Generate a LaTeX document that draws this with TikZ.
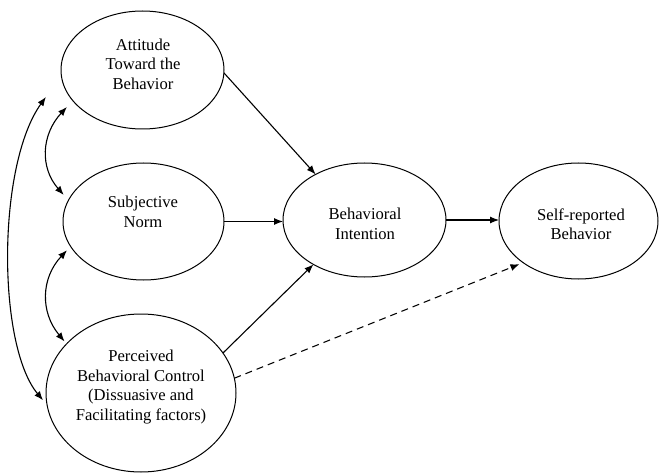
\documentclass[tikz,border=0pt]{standalone}
\usepackage{fontspec}
\setmainfont{Liberation Serif}
\usetikzlibrary{shapes.geometric,arrows.meta,calc}
\begin{document}
\begin{tikzpicture}[x=1pt,y=-1pt,
  ell/.style={draw,ellipse,line width=1pt,inner sep=0pt,outer sep=0pt},
  lbl/.style={align=center,inner sep=0pt,font=\fontsize{16.6}{19.5}\selectfont},
  arr/.style={line width=1.1pt,-{Latex[length=9pt,width=7pt]}},
  dbl/.style={line width=1.1pt,{Latex[length=9pt,width=7pt]}-{Latex[length=9pt,width=7pt]}},
  dsh/.style={arr,dash pattern=on 7pt off 5pt}]
\useasboundingbox (0,0) rectangle (659,476);
\node[ell,minimum width=163pt,minimum height=118pt] (att) at (142.5,70) {};
\node[ell,minimum width=161pt,minimum height=117pt] (sub) at (143.5,221.5) {};
\node[ell,minimum width=190pt,minimum height=158pt] (per) at (141,393) {};
\node[ell,minimum width=163pt,minimum height=114pt] (int) at (364.5,220) {};
\node[ell,minimum width=159pt,minimum height=116pt] (self) at (578.5,221) {};
\node[lbl] (tatt) at (143,64) {Attitude\\Toward the\\Behavior};
\node[lbl] (tsub) at (143,212) {Subjective\\Norm};
\node[lbl] (tper) at (141,387) {Perceived\\Behavioral Control\\(Dissuasive and\\Facilitating factors)};
\node[lbl] (tint) at (365,224) {Behavioral\\Intention};
\node[lbl] (tself) at (581,224) {Self-reported\\Behavior};
\draw[arr] (att.-2) -- (int.137);
\draw[arr] (sub.east) -- (sub.east -| int.west);
\draw[arr] (per.26) -- (int.221);
\draw[arr] (int.east) -- (int.east -| self.west);
\draw[dsh,shorten >=4pt] (per.9) -- (self.217);
\draw[dbl] ($(att.206)+(-8,4)$) .. controls (41,135) and (40,168) .. ($(sub.161)+(-7,-1.5)$);
\draw[dbl] ($(sub.200)+(-4.5,2.5)$) .. controls (41,278) and (40,312) .. ($(per.146.5)+(-2.7,-1.8)$);
\draw[dbl] ($(att.206)+(-29,-6)$) .. controls (-3,165) and (-3,345) .. ($(per.185)+(-3.5,-1)$);
\end{tikzpicture}
\end{document}
